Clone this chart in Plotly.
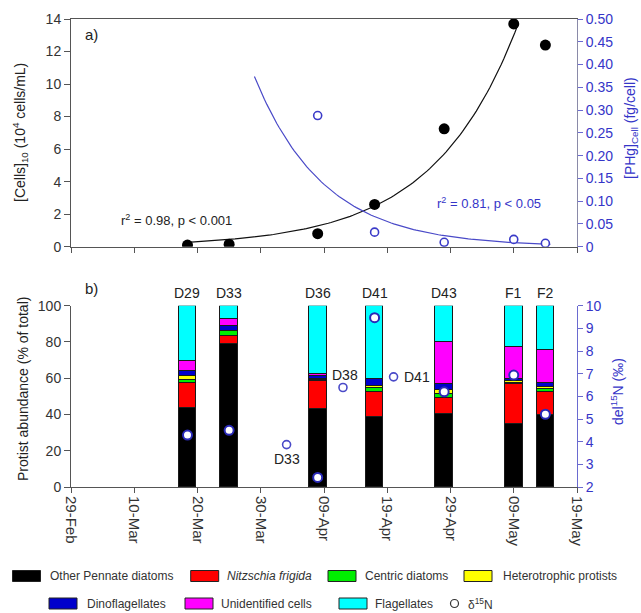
import numpy as np
import pandas as pd
import plotly.graph_objects as go

# ---------------- data ----------------
stations = ["D29", "D33", "D36", "D41", "D43", "F1", "F2"]
sample_dates = ["2008-03-18 10:00", "2008-03-25 00:00", "2008-04-08 00:00", "2008-04-17 00:00",
                "2008-04-28 00:00", "2008-05-09 00:00", "2008-05-14 00:00"]

# panel a
cells10 = [0.1, 0.15, 0.8, 2.6, 7.25, 13.7, 12.4]          # 10^4 cells/mL
phg_dates = ["2008-04-08 00:00", "2008-04-17 00:00", "2008-04-28 00:00",
             "2008-05-09 00:00", "2008-05-14 00:00"]
phg_cell = [0.288, 0.032, 0.0097, 0.016, 0.0075]          # fg/cell

# fitted exponential curves (y = a * exp(b * days since 29-Feb))
cells_fit_a, cells_fit_b = 0.0682, 0.075
cells_fit_span = ["2008-03-19 00:00", "2008-05-09 14:00"]
phg_fit_a, phg_fit_b = 5.28, -0.0913
phg_fit_span = ["2008-03-29 00:00", "2008-05-14 19:00"]

# panel b (% of total)
other_pennate = [43.5, 79, 43, 39, 40.5, 35, 40]
nitzschia = [14, 4.5, 15.5, 13.5, 9, 22, 12.5]
centric = [1.5, 2.5, 0.5, 2, 2, 0.5, 1.5]
heterotrophic = [2.5, 0, 1, 1.5, 2, 1, 1.5]
dinoflagellates = [2.5, 3, 1.5, 3.5, 3.5, 1.5, 2]
unidentified = [5.5, 4, 1, 0.5, 23, 17.5, 18]
flagellates = [30.5, 7, 37.5, 40, 20, 22.5, 24.5]

d15n = [4.29, 4.5, 2.42, 9.47, 6.2, 6.94, 5.21]
extra_labels = ["D33", "D38", "D41"]
extra_dates = ["2008-04-03 02:00", "2008-04-12 00:00", "2008-04-20 00:00"]
extra_d15n = [3.87, 6.39, 6.86]

tick_dates = ["2008-02-29", "2008-03-10", "2008-03-20", "2008-03-30", "2008-04-09",
              "2008-04-19", "2008-04-29", "2008-05-09", "2008-05-19"]
tick_labels = ["29-Feb", "10-Mar", "20-Mar", "30-Mar", "09-Apr", "19-Apr", "29-Apr",
               "09-May", "19-May"]
right_a_ticks = [0, 0.05, 0.10, 0.15, 0.20, 0.25, 0.30, 0.35, 0.40, 0.45, 0.50]
right_a_labels = ["0", "0.05", "0.10", "0.15", "0.20", "0.25", "0.30", "0.35", "0.40",
                  "0.45", "0.50"]

groups = [
    ("Other Pennate diatoms", other_pennate, "#000000", False),
    ("Nitzschia frigida", nitzschia, "#ff0000", True),
    ("Centric diatoms", centric, "#00ee00", False),
    ("Heterotrophic protists", heterotrophic, "#ffff00", False),
    ("Dinoflagellates", dinoflagellates, "#0000cc", False),
    ("Unidentified cells", unidentified, "#ff00ff", False),
    ("Flagellates", flagellates, "#00ffff", False),
]


def dt(seq):
    return pd.to_datetime(seq, format="ISO8601")


# ---------------- layout geometry ----------------
FW, FH = 641, 613
L, R, T, B = 71, 64, 19, 126
PW, PH = FW - L - R, FH - T - B
FONT = "Arial, Liberation Sans, sans-serif"
BLUE_TXT = "#3535c8"
BLUE_LINE = "#6a6ad0"
GREY = "#555555"


def px(x):
    return (x - L) / PW


def py(y):
    return (FH - B - y) / PH


T0 = pd.Timestamp("2008-02-29")


def fit_curve(a, b, span):
    s = dt(span)
    d = pd.date_range(s[0], s[1], periods=120)
    t = (d - T0) / pd.Timedelta(days=1)
    return d, a * np.exp(b * np.asarray(t))


fig = go.Figure()

# panel a
cx, cy = fit_curve(cells_fit_a, cells_fit_b, cells_fit_span)
fig.add_trace(go.Scatter(x=cx, y=cy, mode="lines", line=dict(color="#111111", width=1.2),
                         xaxis="x", yaxis="y", showlegend=False))
fig.add_trace(go.Scatter(x=dt(sample_dates), y=cells10, mode="markers",
                         marker=dict(color="#000000", size=11),
                         xaxis="x", yaxis="y", showlegend=False))
hx, hy = fit_curve(phg_fit_a, phg_fit_b, phg_fit_span)
fig.add_trace(go.Scatter(x=hx, y=hy, mode="lines", line=dict(color="#4a4ac8", width=1.2),
                         xaxis="x", yaxis="y2", showlegend=False))
fig.add_trace(go.Scatter(x=dt(phg_dates), y=phg_cell, mode="markers",
                         marker=dict(color="white", size=8,
                                     line=dict(color="#3a3ac8", width=1.6)),
                         xaxis="x", yaxis="y2", showlegend=False))

# panel b bars
bar_w = 2.8 * 86400000
for name, vals, col, _ in groups:
    fig.add_trace(go.Bar(x=dt(sample_dates), y=vals, name=name,
                         marker=dict(color=col, line=dict(color="#1a1a1a", width=1)),
                         width=bar_w, xaxis="x2", yaxis="y3", showlegend=False))

fig.add_trace(go.Scatter(x=dt(sample_dates), y=d15n, mode="markers",
                         marker=dict(color="white", size=9,
                                     line=dict(color="#2a2ab8", width=2)),
                         xaxis="x2", yaxis="y4", showlegend=False))
fig.add_trace(go.Scatter(x=dt(extra_dates), y=extra_d15n, mode="markers",
                         marker=dict(color="white", size=8,
                                     line=dict(color="#4a4ac8", width=1.6)),
                         xaxis="x2", yaxis="y4", showlegend=False))

xrange = ["2008-02-29", "2008-05-19"]
tickfont = dict(family=FONT, size=14, color="#333333")
xtickfont = dict(family=FONT, size=15, color="#333333")
blue_font = dict(family=FONT, size=14, color=BLUE_TXT)

fig.update_layout(
    width=FW, height=FH,
    margin=dict(l=L, r=R, t=T, b=B),
    paper_bgcolor="white", plot_bgcolor="white",
    barmode="stack", bargap=0,
    font=dict(family=FONT, color="#333333"),
    xaxis=dict(domain=[0, 1], anchor="y", range=xrange, type="date",
               tickvals=tick_dates, ticktext=tick_labels, showticklabels=False,
               ticks="outside", ticklen=5, tickcolor=GREY, showline=True,
               linecolor=GREY, mirror=True, showgrid=False, zeroline=False),
    yaxis=dict(domain=[py(246.7), 1], range=[0, 14], dtick=2, ticks="outside",
               ticklen=6, tickcolor=GREY, showline=True, linecolor=GREY,
               showgrid=False, zeroline=False, tickfont=tickfont),
    yaxis2=dict(overlaying="y", side="right", anchor="x", range=[0, 0.5],
                tickvals=right_a_ticks, ticktext=right_a_labels, ticks="outside",
                ticklen=5, tickcolor=BLUE_LINE, showline=True, linecolor="#8a8aa8",
                showgrid=False, zeroline=False, tickfont=blue_font),
    xaxis2=dict(domain=[0, 1], anchor="y3", range=xrange, type="date",
                tickvals=tick_dates, ticktext=tick_labels, tickangle=90,
                ticks="outside", ticklen=5, tickcolor=GREY, showline=True,
                linecolor=GREY, showgrid=False, zeroline=False, tickfont=xtickfont),
    yaxis3=dict(domain=[0, py(305.7)], range=[0, 100], dtick=20, ticks="outside",
                ticklen=6, tickcolor=GREY, showline=True, linecolor=GREY,
                showgrid=False, zeroline=False, tickfont=tickfont),
    yaxis4=dict(overlaying="y3", side="right", anchor="x2", range=[2, 10], dtick=1,
                ticks="outside", ticklen=5, tickcolor=BLUE_LINE, showline=True,
                linecolor=BLUE_LINE, showgrid=False, zeroline=False,
                tickfont=blue_font),
)

ann = []


def text(x, y, s, size=14, color="#222222", angle=0, xanchor="center", **kw):
    ann.append(dict(x=px(x), y=py(y), xref="paper", yref="paper", text=s,
                    showarrow=False, textangle=angle, xanchor=xanchor,
                    yanchor="middle", font=dict(family=FONT, size=size, color=color),
                    **kw))


# axis titles
text(20, 133, "[Cells]<sub>10</sub> (10<sup>4</sup> cells/mL)", size=14, angle=-90)
text(631, 128, "[PHg]<sub>Cell</sub> (fg/cell)", size=14, color=BLUE_TXT, angle=-90)
text(23, 389, "Protist abundance (% of total)", size=14, angle=-90)
text(617, 392, "del<sup>15</sup>N (‰)", size=14, color=BLUE_TXT, angle=-90)
# panel letters and stats
text(91, 35, "a)", size=15)
text(91, 288, "b)", size=15)
text(176, 220, "r<sup>2</sup> = 0.98, p < 0.001", size=13)
text(489, 203, "r<sup>2</sup> = 0.81, p < 0.05", size=13, color=BLUE_TXT)

# station labels over bars
for s, d in zip(stations, dt(sample_dates)):
    ann.append(dict(x=d, y=100, xref="x2", yref="y3", text=s,
                    showarrow=False, yshift=13, yanchor="middle",
                    font=dict(family=FONT, size=14, color="#222222")))
# labels of separate del15N points
offsets = {"D33": (0, -14, "center"), "D38": (2, 13, "center"), "D41": (8, 0, "left")}
for s, d, v in zip(extra_labels, dt(extra_dates), extra_d15n):
    dx, dy, xa = offsets[s]
    ann.append(dict(x=d, y=v, xref="x2", yref="y4", text=s,
                    showarrow=False, xshift=dx, yshift=dy, xanchor=xa,
                    yanchor="middle",
                    font=dict(family=FONT, size=14, color="#222222")))

# legend (manual)
shapes = []
legend_items = [
    (12.5, 48, 576, 0), (190.7, 224.5, 576, 1), (328, 362.5, 576, 2),
    (464, 501, 576, 3), (49, 84.5, 603.5, 4), (185, 219, 603.5, 5),
    (339, 373, 603.5, 6),
]
for sx, tx, yy, gi in legend_items:
    name, _, col, ital = groups[gi]
    shapes.append(dict(type="rect", xref="paper", yref="paper",
                       x0=px(sx), x1=px(sx + 28), y0=py(yy + 5.5), y1=py(yy - 5.5),
                       fillcolor=col, line=dict(color="#222222", width=1)))
    label = f"<i>{name}</i>" if ital else name
    text(tx, yy, label, size=12, color="#333333", xanchor="left")
shapes.append(dict(type="circle", xref="paper", yref="paper",
                   x0=px(450.5), x1=px(458.5), y0=py(607.5), y1=py(599.5),
                   line=dict(color="#333333", width=1.2), fillcolor="white"))
text(466, 603.5, "δ<sup>15</sup>N", size=12, color="#333333", xanchor="left")

fig.update_layout(annotations=ann, shapes=shapes)
fig.write_html("out.html", config={"displayModeBar": False},
               post_script="document.body.style.margin='0';document.body.style.overflow='hidden';")
